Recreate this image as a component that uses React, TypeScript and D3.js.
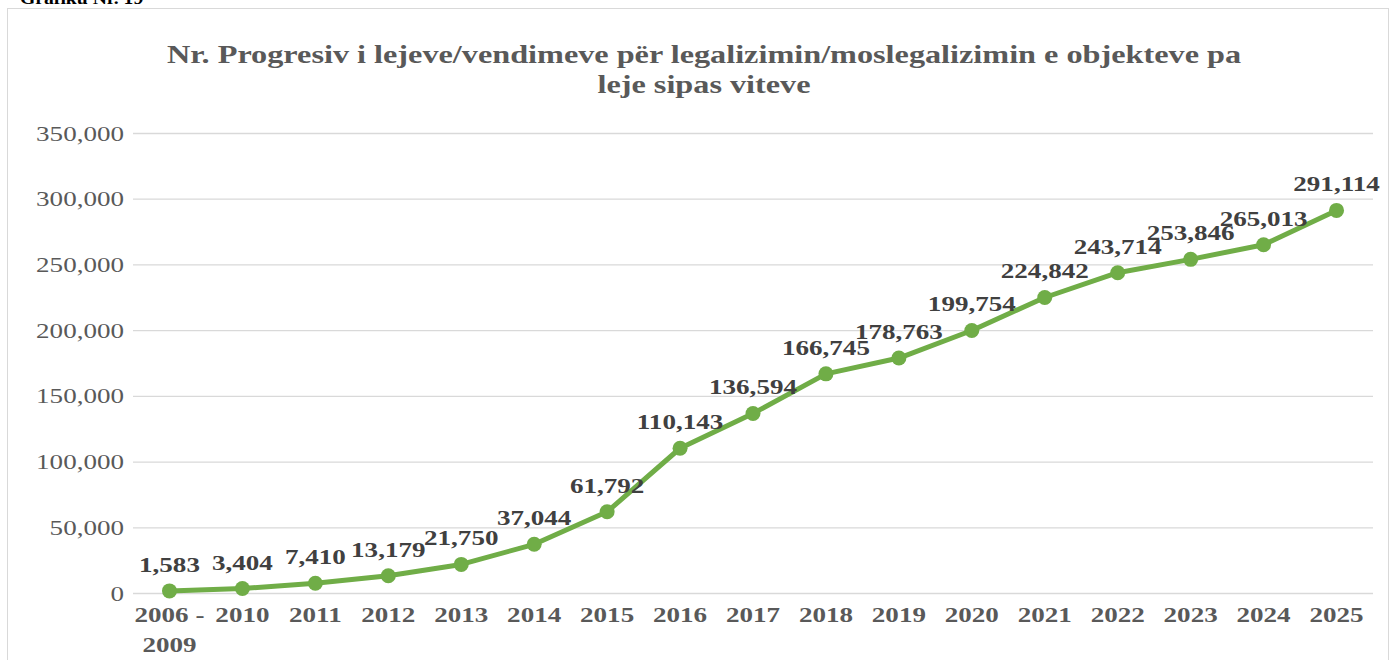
import React, { useEffect, useRef } from 'react';
import * as d3 from 'd3';

const categories = ['2006 - 2009', '2010', '2011', '2012', '2013', '2014', '2015', '2016', '2017', '2018', '2019', '2020', '2021', '2022', '2023', '2024', '2025'];
const values = [1583, 3404, 7410, 13179, 21750, 37044, 61792, 110143, 136594, 166745, 178763, 199754, 224842, 243714, 253846, 265013, 291114];
const yTicks = [0, 50000, 100000, 150000, 200000, 250000, 300000, 350000];
const titleLines = ['Nr. Progresiv i lejeve/vendimeve për legalizimin/moslegalizimin e objekteve pa', 'leje sipas viteve'];

const W = 1391;
const H = 660;
const font = '"Liberation Serif", "Times New Roman", serif';
// the text in the original is drawn a little wider than the font itself
const SX = 1.23;

const App = () => {
  const ref = useRef<SVGSVGElement>(null);

  useEffect(() => {
    const svg = d3.select(ref.current);
    svg.selectAll('*').remove();

    const x = d3.scaleBand().domain(categories).range([133, 1373]);
    const y = d3.scaleLinear().domain([0, 350000]).range([593, 133]);
    const fmt = d3.format(',');
    const cx = (i: number) => (x(categories[i]) as number) + x.bandwidth() / 2;

    // caption + frame
    svg.append('text')
      .attr('transform', `translate(20,4) scale(${SX},1)`)
      .attr('font-family', font).attr('font-size', 16).attr('font-weight', 'bold')
      .attr('fill', '#000')
      .text('Grafiku Nr. 19');

    svg.append('rect')
      .attr('x', 7.5).attr('y', 8.5).attr('width', 1381).attr('height', 660)
      .attr('fill', '#fff').attr('stroke', '#d9d9d9');

    // TITLE
    svg.append('g').selectAll('text')
      .data(titleLines)
      .enter()
      .append('text')
      .attr('transform', (d, i) => `translate(704,${63 + i * 30}) scale(1.29,1)`)
      .attr('text-anchor', 'middle')
      .attr('font-family', font).attr('font-size', 25).attr('font-weight', 'bold')
      .attr('fill', '#595959')
      .text(d => d);

    // GRID + Y AXIS
    const yAxis = svg.append('g')
      .attr('transform', 'translate(133,0)')
      .call(d3.axisLeft(y).tickValues(yTicks).tickSize(-(1373 - 133)).tickFormat(d => fmt(d as number)).tickPadding(9));
    yAxis.select('.domain').remove();
    yAxis.selectAll('.tick line').attr('stroke', '#d9d9d9').attr('stroke-width', 1.3);
    yAxis.selectAll('.tick text')
      .attr('x', -9 / SX)
      .attr('transform', `scale(${SX},1)`)
      .attr('font-family', font).attr('font-size', 22).attr('fill', '#595959');

    // X LABELS
    const xl = svg.append('g').selectAll('text')
      .data(categories)
      .enter()
      .append('text')
      .attr('transform', (d, i) => `translate(${cx(i)},622) scale(${SX},1)`)
      .attr('text-anchor', 'middle')
      .attr('font-family', font).attr('font-size', 22).attr('font-weight', 'bold')
      .attr('fill', '#595959');
    xl.each(function (d) {
      const parts = d === '2006 - 2009' ? ['2006 -', '2009'] : [d];
      const t = d3.select(this);
      parts.forEach((p, i) => {
        t.append('tspan')
          .attr('x', 0)
          .attr('dy', i === 0 ? 0 : 30)
          .text(p);
      });
    });

    // LINE
    const line = d3.line<number>().x((d, i) => cx(i)).y(d => y(d));
    svg.append('path')
      .datum(values)
      .attr('d', line)
      .attr('fill', 'none')
      .attr('stroke', '#70ad47')
      .attr('stroke-width', 5)
      .attr('stroke-linejoin', 'round');

    svg.append('g').selectAll('circle')
      .data(values)
      .enter()
      .append('circle')
      .attr('cx', (d, i) => cx(i))
      .attr('cy', d => y(d))
      .attr('r', 7.5)
      .attr('fill', '#70ad47');

    // DATA LABELS
    svg.append('g').selectAll('text')
      .data(values)
      .enter()
      .append('text')
      .attr('transform', (d, i) => `translate(${cx(i)},${y(d) - 19}) scale(${SX},1)`)
      .attr('text-anchor', 'middle')
      .attr('font-family', font).attr('font-size', 22).attr('font-weight', 'bold')
      .attr('fill', '#404040')
      .text(d => fmt(d));
  });

  return <svg ref={ref} width={W} height={H} style={{ position: 'absolute', left: 0, top: 0 }} />;
};

export default App;
